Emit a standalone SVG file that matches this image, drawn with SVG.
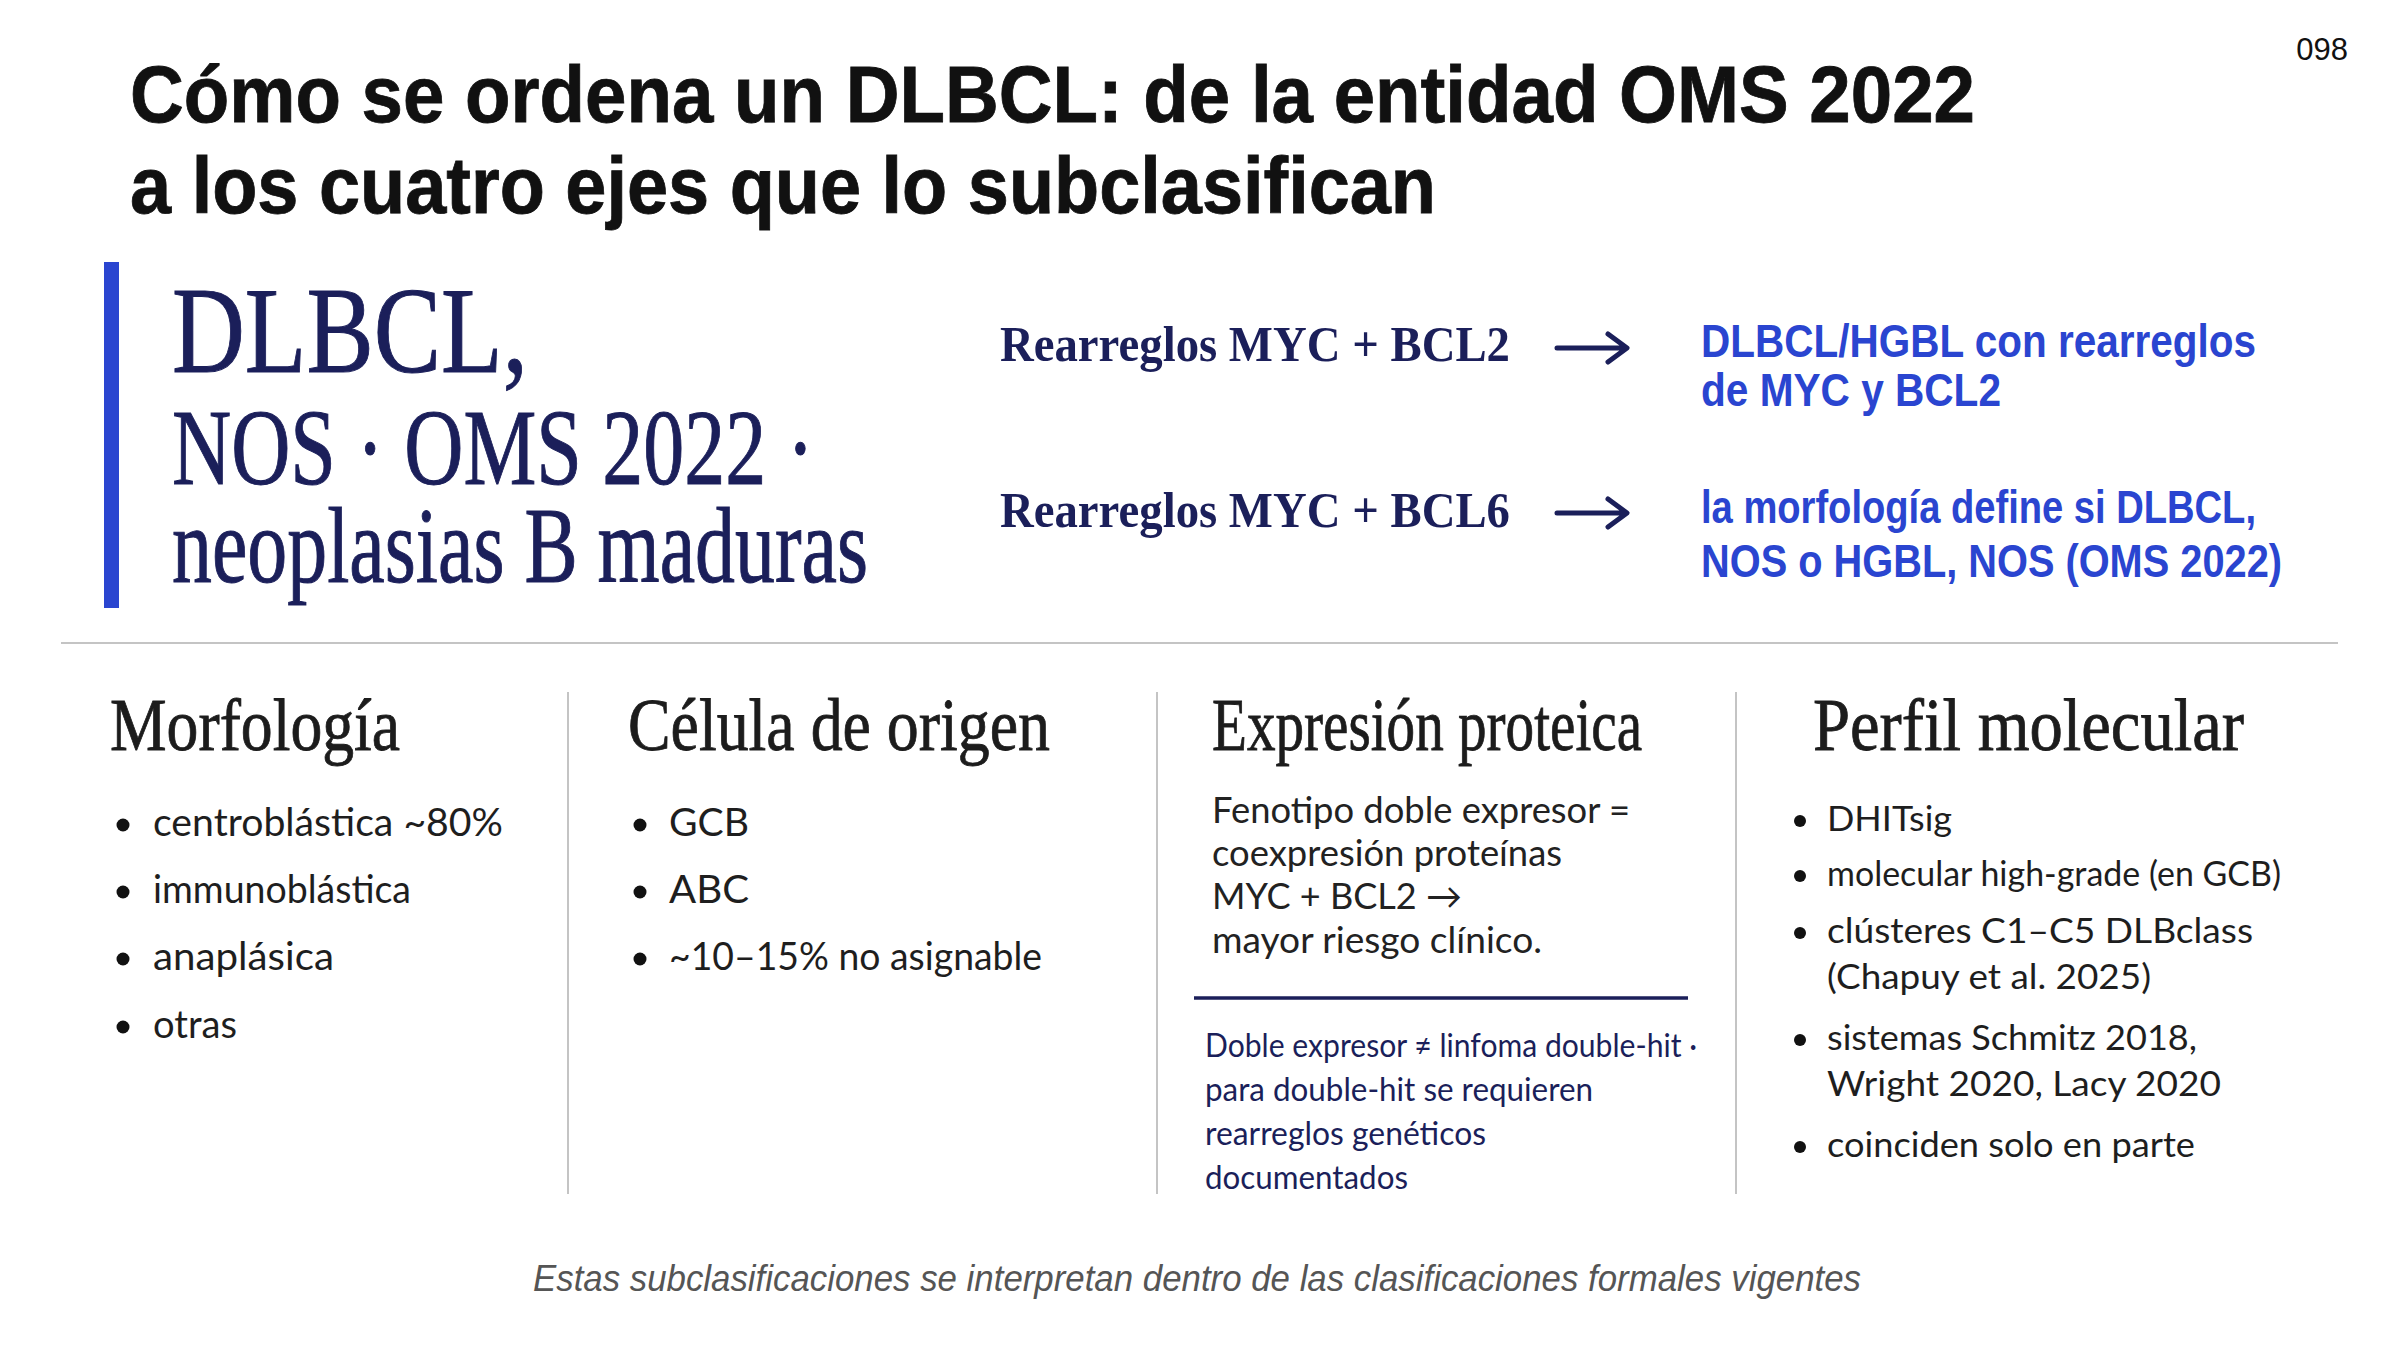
<svg xmlns="http://www.w3.org/2000/svg" width="2400" height="1350" viewBox="0 0 2400 1350">
<defs>
<style>
.title{font-family:"Liberation Sans",Arial,sans-serif;font-weight:700;font-size:80px;fill:#111111;stroke:#111111;stroke-width:0.8}
.pnum{font-family:"Liberation Sans",Arial,sans-serif;font-size:31px;fill:#111111}
.big{font-family:"Liberation Serif","Times New Roman",serif;fill:#1b1f5a;stroke:#1b1f5a;stroke-width:1}
.rule{font-family:"Liberation Serif","Times New Roman",serif;font-weight:700;font-size:50px;fill:#1b1f5a}
.res{font-family:"Liberation Sans",Arial,sans-serif;font-weight:700;font-size:46px;fill:#2a45d0}
.head{font-family:"Liberation Serif","Times New Roman",serif;font-size:74px;fill:#1c1c1c;stroke:#1c1c1c;stroke-width:0.8}
.b1{font-family:Lato,"Liberation Sans",sans-serif;font-size:38px;fill:#1e1e1e}
.b4{font-family:Lato,"Liberation Sans",sans-serif;font-size:35px;fill:#1e1e1e}
.par{font-family:Lato,"Liberation Sans",sans-serif;font-size:36px;fill:#222222}
.note{font-family:Lato,"Liberation Sans",sans-serif;font-size:33px;fill:#1b1f5a}
.foot{font-family:"Liberation Sans",Arial,sans-serif;font-style:italic;font-size:36px;fill:#555555}
.dot{fill:#111111}
.sep{stroke:#c4c4c4;stroke-width:2}
.arrow{fill:none;stroke:#1b1f5a;stroke-width:5;stroke-linecap:round;stroke-linejoin:round}
</style>
</defs>
<rect x="0" y="0" width="2400" height="1350" fill="#ffffff"/>

<g id="title">
<text class="title" x="130" y="122" textLength="1845" lengthAdjust="spacingAndGlyphs">Cómo se ordena un DLBCL: de la entidad OMS 2022</text>
<text class="title" x="130" y="213" textLength="1306" lengthAdjust="spacingAndGlyphs">a los cuatro ejes que lo subclasifican</text>
</g>
<g id="page-number">
<text class="pnum" x="2348" y="60" text-anchor="end">098</text>
</g>

<g id="entity">
<rect x="104" y="262" width="15" height="346" fill="#2a45d0"/>
<text class="big" x="172" y="372" font-size="122" textLength="356" lengthAdjust="spacingAndGlyphs">DLBCL,</text>
<text class="big" x="172" y="484" font-size="108" textLength="642" lengthAdjust="spacingAndGlyphs">NOS · OMS 2022 ·</text>
<text class="big" x="172" y="582" font-size="108" textLength="696" lengthAdjust="spacingAndGlyphs">neoplasias B maduras</text>
</g>

<g id="rule-bcl2">
<text class="rule" x="1000" y="361" textLength="510" lengthAdjust="spacingAndGlyphs">Rearreglos MYC + BCL2</text>
</g>
<g id="result-bcl2">
<text class="res" x="1701" y="357" textLength="555" lengthAdjust="spacingAndGlyphs">DLBCL/HGBL con rearreglos</text>
<text class="res" x="1701" y="406" textLength="300" lengthAdjust="spacingAndGlyphs">de MYC y BCL2</text>
</g>
<g id="rule-bcl6">
<text class="rule" x="1000" y="527" textLength="510" lengthAdjust="spacingAndGlyphs">Rearreglos MYC + BCL6</text>
</g>
<g id="result-bcl6">
<text class="res" x="1701" y="523" textLength="555" lengthAdjust="spacingAndGlyphs">la morfología define si DLBCL,</text>
<text class="res" x="1701" y="577" textLength="581" lengthAdjust="spacingAndGlyphs">NOS o HGBL, NOS (OMS 2022)</text>
</g>

<g id="connectors">
<path class="arrow" d="M1557 348 H1626 M1608 334 L1627 348 L1608 362"/>
<path class="arrow" d="M1557 513 H1626 M1608 499 L1627 513 L1608 527"/>
</g>

<g id="dividers">
<line class="sep" x1="61" y1="643" x2="2338" y2="643"/>
<line class="sep" x1="568" y1="692" x2="568" y2="1194"/>
<line class="sep" x1="1157" y1="692" x2="1157" y2="1194"/>
<line class="sep" x1="1736" y1="692" x2="1736" y2="1194"/>
</g>

<g id="col-morfologia">
<text class="head" x="110" y="750" textLength="290" lengthAdjust="spacingAndGlyphs">Morfología</text>
<circle class="dot" cx="123" cy="825" r="6.5"/>
<text class="b1" x="153" y="836" textLength="350" lengthAdjust="spacingAndGlyphs">centroblástica ~80%</text>
<circle class="dot" cx="123" cy="892" r="6.5"/>
<text class="b1" x="153" y="903" textLength="258" lengthAdjust="spacingAndGlyphs">immunoblástica</text>
<circle class="dot" cx="123" cy="959" r="6.5"/>
<text class="b1" x="153" y="970" textLength="181" lengthAdjust="spacingAndGlyphs">anaplásica</text>
<circle class="dot" cx="123" cy="1027" r="6.5"/>
<text class="b1" x="153" y="1038" textLength="84" lengthAdjust="spacingAndGlyphs">otras</text>
</g>

<g id="col-celula">
<text class="head" x="628" y="750" textLength="422" lengthAdjust="spacingAndGlyphs">Célula de origen</text>
<circle class="dot" cx="640" cy="825" r="6.5"/>
<text class="b1" x="669" y="836" textLength="80" lengthAdjust="spacingAndGlyphs">GCB</text>
<circle class="dot" cx="640" cy="892" r="6.5"/>
<text class="b1" x="669" y="903" textLength="80" lengthAdjust="spacingAndGlyphs">ABC</text>
<circle class="dot" cx="640" cy="959" r="6.5"/>
<text class="b1" x="669" y="970" textLength="373" lengthAdjust="spacingAndGlyphs">~10–15% no asignable</text>
</g>

<g id="col-expresion">
<text class="head" x="1212" y="750" textLength="430" lengthAdjust="spacingAndGlyphs">Expresión proteica</text>
<text class="par" x="1212" y="823" textLength="418" lengthAdjust="spacingAndGlyphs">Fenotipo doble expresor =</text>
<text class="par" x="1212" y="866" textLength="350" lengthAdjust="spacingAndGlyphs">coexpresión proteínas</text>
<text class="par" x="1212" y="909" textLength="250" lengthAdjust="spacingAndGlyphs">MYC + BCL2 →</text>
<text class="par" x="1212" y="953" textLength="330" lengthAdjust="spacingAndGlyphs">mayor riesgo clínico.</text>
<line x1="1194" y1="998" x2="1688" y2="998" stroke="#1b1f5a" stroke-width="3.5"/>
<text class="note" x="1205" y="1057" textLength="492" lengthAdjust="spacingAndGlyphs">Doble expresor ≠ linfoma double-hit ·</text>
<text class="note" x="1205" y="1101" textLength="388" lengthAdjust="spacingAndGlyphs">para double-hit se requieren</text>
<text class="note" x="1205" y="1145" textLength="281" lengthAdjust="spacingAndGlyphs">rearreglos genéticos</text>
<text class="note" x="1205" y="1189" textLength="203" lengthAdjust="spacingAndGlyphs">documentados</text>
</g>

<g id="col-molecular">
<text class="head" x="1813" y="750" textLength="431" lengthAdjust="spacingAndGlyphs">Perfil molecular</text>
<circle class="dot" cx="1800" cy="821" r="6"/>
<text class="b4" x="1827" y="831" textLength="125" lengthAdjust="spacingAndGlyphs">DHITsig</text>
<circle class="dot" cx="1800" cy="876" r="6"/>
<text class="b4" x="1827" y="886" textLength="454" lengthAdjust="spacingAndGlyphs">molecular high-grade (en GCB)</text>
<circle class="dot" cx="1800" cy="933" r="6"/>
<text class="b4" x="1827" y="943" textLength="426" lengthAdjust="spacingAndGlyphs">clústeres C1–C5 DLBclass</text>
<text class="b4" x="1827" y="989" textLength="324" lengthAdjust="spacingAndGlyphs">(Chapuy et al. 2025)</text>
<circle class="dot" cx="1800" cy="1040" r="6"/>
<text class="b4" x="1827" y="1050" textLength="370" lengthAdjust="spacingAndGlyphs">sistemas Schmitz 2018,</text>
<text class="b4" x="1827" y="1096" textLength="394" lengthAdjust="spacingAndGlyphs">Wright 2020, Lacy 2020</text>
<circle class="dot" cx="1800" cy="1147" r="6"/>
<text class="b4" x="1827" y="1157" textLength="368" lengthAdjust="spacingAndGlyphs">coinciden solo en parte</text>
</g>

<g id="footer">
<text class="foot" x="533" y="1291" textLength="1328" lengthAdjust="spacingAndGlyphs">Estas subclasificaciones se interpretan dentro de las clasificaciones formales vigentes</text>
</g>
</svg>
